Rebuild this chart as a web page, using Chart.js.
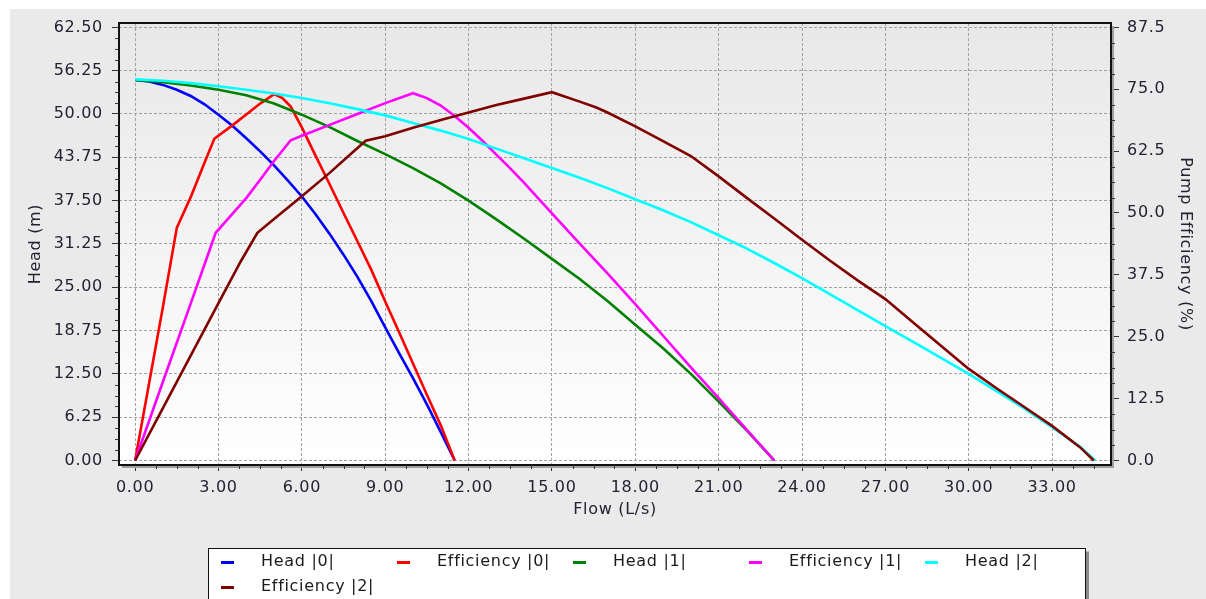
<!DOCTYPE html>
<html>
<head>
<meta charset="utf-8">
<title>Pump curves</title>
<script src="https://cdn.jsdelivr.net/npm/chart.js@4.4.0/dist/chart.umd.min.js"></script>
<style>
  html, body { margin: 0; padding: 0; background: #ffffff; }
  canvas { display: block; }
</style>
</head>
<body>
<canvas id="pumpChart" width="1206" height="599"></canvas>
<script>
// ---- Series data: flow (L/s) against head (m) or pump efficiency (%) ----
const flowHead0 = [0, 0.5, 1, 1.5, 2, 2.5, 3, 3.5, 4, 4.5, 5, 5.5, 6, 6.5, 7, 7.5, 8, 8.5, 9, 9.5, 10, 10.5, 11, 11.5];
const head0     = [54.9, 54.7, 54.2, 53.5, 52.6, 51.4, 49.9, 48.3, 46.5, 44.6, 42.6, 40.4, 38.1, 35.5, 32.7, 29.7, 26.5, 23.0, 19.2, 15.5, 11.9, 8.1, 4.1, 0];

const flowEff0 = [0, 0.5, 1, 1.5, 2, 2.5, 2.85, 3.5, 4, 4.5, 5, 5.3, 5.6, 6, 6.5, 7, 7.5, 8, 8.5, 9, 9.5, 10, 10.5, 11, 11.5];
const eff0     = [0, 15.5, 31, 47, 53.2, 60.2, 65.0, 67.7, 69.9, 72.1, 74.0, 73.2, 71.5, 67.3, 61.5, 55.8, 50.0, 44.3, 38.5, 32.1, 25.9, 19.6, 13.3, 7.1, 0];

const flowHead1 = [0, 1, 2, 3, 4, 5, 6, 7, 8, 9, 10, 11, 12, 13, 14, 15, 16, 17, 18, 19, 20, 21, 22, 23];
const head1     = [54.9, 54.6, 54.1, 53.5, 52.7, 51.5, 49.9, 48.1, 46.1, 44.2, 42.2, 40.0, 37.5, 34.8, 32.0, 29.1, 26.2, 23.0, 19.6, 16.2, 12.5, 8.5, 4.4, 0];

const flowEff1 = [0, 1, 2, 2.9, 3.5, 4, 4.5, 5, 5.6, 6, 7, 8, 9, 10, 10.5, 11, 11.5, 12, 12.5, 13, 13.5, 14, 14.5, 15, 16, 17, 18, 19, 20, 21, 22, 23];
const eff1     = [0, 15.9, 31.7, 46.0, 49.8, 53.0, 56.7, 60.5, 64.7, 65.6, 67.8, 70.0, 72.2, 74.2, 73.2, 71.7, 69.6, 67.2, 64.6, 61.8, 59.0, 56.1, 53.0, 49.9, 43.8, 37.8, 31.6, 25.2, 18.8, 12.6, 6.3, 0];

const flowHead2 = [0, 1, 2, 3, 4, 5, 6, 7, 8, 9, 10, 11, 12, 13, 14, 15, 16, 17, 18, 19, 20, 21, 22, 23, 24, 25, 26, 27, 28, 29, 30, 31, 32, 33, 34, 34.55];
const head2     = [55.0, 54.8, 54.45, 54.0, 53.5, 52.95, 52.3, 51.55, 50.7, 49.8, 48.7, 47.6, 46.4, 45.0, 43.6, 42.2, 40.8, 39.3, 37.7, 36.1, 34.4, 32.5, 30.6, 28.5, 26.3, 24.0, 21.7, 19.4, 17.1, 14.8, 12.5, 10.0, 7.5, 4.8, 2.0, 0];

const flowEff2 = [0, 1, 2, 3, 3.8, 4.4, 5, 6, 7, 7.8, 8.3, 9, 10, 11, 12, 13, 14, 15, 16, 16.6, 17, 18, 19, 20, 21, 22, 23, 24, 25, 26, 27, 28, 29, 30, 31, 32, 33, 34, 34.5];
const eff2     = [0, 10.6, 21.2, 31.8, 40.2, 46.0, 48.8, 53.4, 58.1, 62.1, 64.6, 65.5, 67.2, 68.8, 70.3, 71.8, 73.1, 74.4, 72.5, 71.3, 70.3, 67.5, 64.5, 61.5, 57.4, 53.1, 48.9, 44.6, 40.4, 36.4, 32.6, 27.9, 23.2, 18.5, 14.6, 10.8, 7.0, 2.7, 0];

const seriesNames  = ['Head |0|', 'Efficiency |0|', 'Head |1|', 'Efficiency |1|', 'Head |2|', 'Efficiency |2|'];
const seriesColors = ['#0000ff', '#ff0000', '#008000', '#ff00ff', '#00ffff', '#800000'];
const seriesAxes   = ['y', 'y2', 'y', 'y2', 'y', 'y2'];
const seriesFlows  = [flowHead0, flowEff0, flowHead1, flowEff1, flowHead2, flowEff2];
const seriesValues = [head0, eff0, head1, eff1, head2, eff2];

// ---- Axis settings ----
const flowStep = 3, headStep = 6.25, effStep = 12.5;
const minorDivisions = 4;
const FONT_FAMILY = 'DejaVu Sans';
const TEXT_COLOR = '#222233';

const datasets = seriesNames.map((name, i) => ({
  label: name,
  data: seriesFlows[i].map((f, k) => ({ x: f, y: seriesValues[i][k] })),
  yAxisID: seriesAxes[i],
  borderColor: seriesColors[i],
  backgroundColor: seriesColors[i],
  borderWidth: 2.6,
  pointRadius: 0,
  tension: 0,
  fill: false,
  order: seriesNames.length - i
}));

// panel, plot gradient and letter spacing
const backdrop = {
  id: 'backdrop',
  beforeDraw(chart) {
    const { ctx, chartArea: a, width, height } = chart;
    ctx.save();
    ctx.fillStyle = '#ffffff';
    ctx.fillRect(0, 0, width, height);
    ctx.fillStyle = '#eaeaea';
    ctx.fillRect(10, 9, width - 10, height - 9);
    const g = ctx.createLinearGradient(0, a.top, 0, a.bottom);
    g.addColorStop(0, '#e8e8e8');
    g.addColorStop(1, '#ffffff');
    ctx.fillStyle = g;
    ctx.fillRect(a.left, a.top, a.right - a.left, a.bottom - a.top);
    ctx.restore();
    try { ctx.letterSpacing = '0.7px'; } catch (e) {}
  }
};

// small tick marks between the labelled ones
const minorTicks = {
  id: 'minorTicks',
  afterDraw(chart) {
    const { ctx, chartArea: a } = chart;
    ctx.save();
    ctx.strokeStyle = '#333333';
    ctx.lineWidth = 1;
    const run = (scale, step, drawFn) => {
      const minor = step / minorDivisions;
      const start = Math.ceil(scale.min / minor);
      const end = Math.floor(scale.max / minor);
      for (let k = start; k <= end; k++) {
        if (k % minorDivisions === 0) continue;
        drawFn(scale.getPixelForValue(k * minor));
      }
    };
    ctx.beginPath();
    run(chart.scales.x, flowStep, px => { const x = Math.round(px) + 0.5; ctx.moveTo(x, a.bottom); ctx.lineTo(x, a.bottom + 4); });
    run(chart.scales.y, headStep, py => { const y = Math.round(py) + 0.5; ctx.moveTo(a.left, y); ctx.lineTo(a.left - 4, y); });
    run(chart.scales.y2, effStep, py => { const y = Math.round(py) + 0.5; ctx.moveTo(a.right, y); ctx.lineTo(a.right + 4, y); });
    ctx.stroke();
    ctx.restore();
  }
};

// plot frame with a soft shadow
const frame = {
  id: 'frame',
  afterDatasetsDraw(chart) {
    const { ctx, chartArea: a } = chart;
    ctx.save();
    ctx.fillStyle = '#a0a0a0';
    ctx.fillRect(a.right + 1, a.top + 3, 2, a.bottom - a.top);
    ctx.fillRect(a.left + 3, a.bottom + 1, a.right - a.left, 2);
    ctx.strokeStyle = '#111111';
    ctx.lineWidth = 2;
    ctx.strokeRect(a.left, a.top, a.right - a.left, a.bottom - a.top);
    ctx.restore();
  }
};

// boxed legend laid out in fixed columns
const boxLegend = {
  id: 'boxLegend',
  afterDraw(chart) {
    const { ctx } = chart;
    const box = { left: 208.5, top: 548.5, right: 1085.5, bottom: 610 };
    const cols = 5, colW = 176, rowH = 25;
    ctx.save();
    ctx.fillStyle = '#8c8c8c';
    ctx.fillRect(box.right + 0.5, box.top + 3, 3, box.bottom - box.top);
    ctx.fillStyle = '#ffffff';
    ctx.fillRect(box.left, box.top, box.right - box.left, box.bottom - box.top);
    ctx.strokeStyle = '#111111';
    ctx.lineWidth = 1;
    ctx.strokeRect(box.left, box.top, box.right - box.left, box.bottom - box.top);
    ctx.font = '16px "' + FONT_FAMILY + '"';
    ctx.textBaseline = 'middle';
    ctx.textAlign = 'left';
    chart.data.datasets.forEach((ds, i) => {
      const col = i % cols, row = Math.floor(i / cols);
      const cy = 562 + row * rowH;
      const mx = 221 + col * colW;
      ctx.strokeStyle = ds.borderColor;
      ctx.lineWidth = 3;
      ctx.beginPath();
      ctx.moveTo(mx, cy + 0.5);
      ctx.lineTo(mx + 13, cy + 0.5);
      ctx.stroke();
      ctx.fillStyle = '#1a1a1a';
      ctx.fillText(ds.label, 261 + col * colW, cy);
    });
    ctx.restore();
  }
};

const tickFont = { family: FONT_FAMILY, size: 16 };
const titleFont = { family: FONT_FAMILY, size: 16 };
const gridColor = '#a2a2a2';

new Chart(document.getElementById('pumpChart'), {
  type: 'line',
  data: { datasets },
  plugins: [backdrop, minorTicks, frame, boxLegend],
  options: {
    responsive: false,
    animation: false,
    parsing: true,
    layout: { padding: { top: 23, left: 0, right: 0, bottom: 64 } },
    plugins: { legend: { display: false }, tooltip: { enabled: false } },
    scales: {
      x: {
        type: 'linear',
        min: -0.58, max: 35.12,
        ticks: {
          stepSize: flowStep, includeBounds: false, autoSkip: false, maxRotation: 0,
          padding: 7, font: tickFont, color: TEXT_COLOR,
          callback: v => Number(v).toFixed(2)
        },
        grid: { color: gridColor, lineWidth: 1, tickLength: 6, tickColor: '#333333', tickWidth: 1 },
        border: { display: false, dash: [3, 2] },
        title: { display: true, text: 'Flow (L/s)', font: titleFont, color: TEXT_COLOR, padding: { top: 0, bottom: 16 } },
        afterFit: s => { s.height = 70; }
      },
      y: {
        type: 'linear', position: 'left',
        min: -0.65, max: 63.13,
        ticks: {
          stepSize: headStep, includeBounds: false, autoSkip: false,
          padding: 9, font: tickFont, color: TEXT_COLOR,
          callback: v => Number(v).toFixed(2)
        },
        grid: { color: gridColor, lineWidth: 1, tickLength: 7, tickColor: '#333333', tickWidth: 1 },
        border: { display: false, dash: [3, 2] },
        title: { display: true, text: 'Head (m)', font: titleFont, color: TEXT_COLOR, padding: { top: 26, bottom: 0 } },
        afterFit: s => { s.width = 119; }
      },
      y2: {
        type: 'linear', position: 'right',
        min: -0.91, max: 88.38,
        ticks: {
          stepSize: effStep, includeBounds: false, autoSkip: false,
          padding: 8, font: tickFont, color: TEXT_COLOR,
          callback: v => Number(v).toFixed(1)
        },
        grid: { drawOnChartArea: false, tickLength: 8, tickColor: '#333333', tickWidth: 1 },
        border: { display: false },
        title: { display: true, text: 'Pump Efficiency (%)', font: titleFont, color: TEXT_COLOR, padding: { top: 11, bottom: 0 } },
        afterFit: s => { s.width = 95; }
      }
    }
  }
});
</script>
</body>
</html>
